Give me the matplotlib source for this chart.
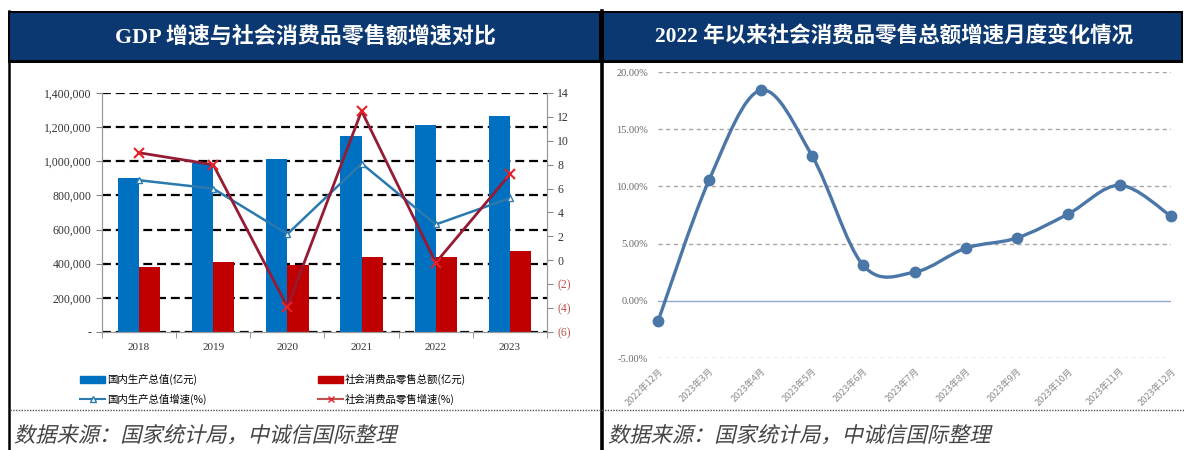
import numpy as np
import matplotlib
matplotlib.use("Agg")
import matplotlib.pyplot as plt
from matplotlib.patches import Rectangle, PathPatch, Patch
from matplotlib.path import Path
from matplotlib.lines import Line2D
from matplotlib.textpath import TextPath
from matplotlib.font_manager import FontProperties
from matplotlib.transforms import Affine2D
import matplotlib.ticker as mticker

plt.rcParams['font.family'] = ['Liberation Serif', 'Noto Sans CJK SC', 'DejaVu Sans']

# ---- datos ----
years = ['2018', '2019', '2020', '2021', '2022', '2023']
gdp_total = [905000, 990000, 1015000, 1146000, 1215000, 1265000]
retail_total = [381000, 411000, 392000, 441000, 440000, 473000]
gdp_growth = [6.7, 6.0, 2.2, 8.1, 3.0, 5.2]
retail_growth = [9.0, 8.0, -3.9, 12.5, -0.2, 7.2]

months = ['2022年12月', '2023年3月', '2023年4月', '2023年5月', '2023年6月', '2023年7月',
          '2023年8月', '2023年9月', '2023年10月', '2023年11月', '2023年12月']
retail_monthly = [-1.8, 10.6, 18.4, 12.7, 3.1, 2.5, 4.6, 5.5, 7.6, 10.1, 7.4]

title_left = 'GDP 增速与社会消费品零售额增速对比'
title_right = '2022 年以来社会消费品零售总额增速月度变化情况'
source_text = '数据来源：国家统计局，中诚信国际整理'
legend_labels = ['国内生产总值(亿元)', '国内生产总值增速(%)', '社会消费品零售总额(亿元)', '社会消费品零售增速(%)']

W, H, DPI = 1184, 450, 100
fig = plt.figure(figsize=(W / DPI, H / DPI), dpi=DPI)

# pixel -> figure fraction
def fx(x):
    return x / W

def fy(y):
    return 1 - y / H

def box(x0, y0, x1, y1, color):
    fig.add_artist(Rectangle((fx(x0), fy(y1)), fx(x1) - fx(x0), fy(y0) - fy(y1),
                             transform=fig.transFigure, color=color, lw=0, zorder=5))

# cabeceras
navy = '#0b3870'
box(8, 11, 601, 63, 'black')
box(10, 13, 599, 60, navy)
box(601, 11, 1183, 63, 'black')
box(604, 13, 1181, 60, navy)
fig.text(fx(305), fy(37), title_left, color='white', fontsize=15.8, fontweight='bold',
         ha='center', va='center', zorder=6)
fig.text(fx(894), fy(37), title_right, color='white', fontsize=15.5, fontweight='bold',
         ha='center', va='center', zorder=6)

# bordes verticales y separador punteado
fig.add_artist(Line2D([fx(9), fx(9)], [fy(11), 0], color='black', lw=1.8, transform=fig.transFigure))
fig.add_artist(Line2D([fx(601.5), fx(601.5)], [fy(11), 0], color='black', lw=2.6, transform=fig.transFigure))
fig.add_artist(Line2D([fx(10), 1], [fy(410), fy(410)], color='#555555', lw=1.0,
                      ls=(0, (1, 1)), transform=fig.transFigure))

# fuente en cursiva (sesgada a mano)
def italic_text(x, y, s, size):
    fp = FontProperties(family='Noto Sans CJK SC', size=size)
    tp = TextPath((0, 0), s, prop=fp)
    tr = Affine2D().skew_deg(13, 0).scale(DPI / 72.0).translate(x, H - y)
    fig.add_artist(PathPatch(tp, transform=tr, color='#444444', lw=0))

italic_text(14, 442, source_text, 15.3)
italic_text(608, 442, source_text, 15.3)

# ---- grafico izquierdo ----
ax = fig.add_axes([fx(102), fy(332), fx(547) - fx(102), fy(93) - fy(332)])
x = np.arange(len(years))
bw = 0.285
ax.bar(x - bw / 2, gdp_total, bw, color='#0070c0', zorder=2)
ax.bar(x + bw / 2, retail_total, bw, color='#c00000', zorder=2)
ax.set_xlim(-0.5, 5.5)
ax.set_ylim(0, 1400000)
ax.set_yticks(np.arange(0, 1400001, 200000))
ax.yaxis.set_major_formatter(mticker.FuncFormatter(lambda v, p: '-' if v == 0 else '{:,.0f}'.format(v)))
ax.set_xticks(x)
ax.set_xticklabels(years)
ax.set_xticks(np.arange(-0.5, 5.6, 1), minor=True)
ax.tick_params(axis='x', which='major', length=0, pad=8, labelsize=8, labelcolor='#333333')
ax.tick_params(axis='x', which='minor', length=4, color='#888888')
ax.tick_params(axis='y', length=4, color='#888888', labelsize=8.5, labelcolor='#333333')
ax.set_axisbelow(True)
ax.yaxis.grid(True, color='black', lw=1.6, ls=(0, (4, 2.2)))
ax.spines['top'].set_visible(False)
for s in ['left', 'bottom', 'right']:
    ax.spines[s].set_color('#999999')

ax2 = ax.twinx()
ax2.plot(x, gdp_growth, color='#2a7ab0', lw=1.8, marker='^', ms=5, mfc='white', mec='#2a7ab0', zorder=3)
ax2.plot(x, retail_growth, color='#961a33', lw=2.0, marker='x', ms=7, mew=1.5, mec='#e8202a', zorder=4)
ax2.set_ylim(-6, 14)
ax2.set_yticks(np.arange(-6, 15, 2))
ax2.yaxis.set_major_formatter(mticker.FuncFormatter(lambda v, p: '({:.0f})'.format(-v) if v < 0 else '{:.0f}'.format(v)))
ax2.tick_params(axis='y', length=4, color='#888888', labelsize=8.5)
for v, lab in zip(ax2.get_yticks(), ax2.get_yticklabels()):
    lab.set_color('#c0504d' if v < 0 else '#333333')
ax2.spines['top'].set_visible(False)
for s in ['left', 'bottom', 'right']:
    ax2.spines[s].set_color('#999999')

handles = [Patch(color='#0070c0'),
           Line2D([], [], color='#2a7ab0', lw=1.5, marker='^', ms=4, mfc='white', mec='#2a7ab0'),
           Patch(color='#c00000'),
           Line2D([], [], color='#c0504d', lw=1.5, marker='x', ms=4, mec='#e8202a')]
fig.legend(handles, legend_labels, ncol=2, loc='upper left', bbox_to_anchor=(fx(80), fy(374)),
           frameon=False, handlelength=2.4, handletextpad=0.2, columnspacing=10.7,
           labelspacing=0.8, borderaxespad=0, borderpad=0,
           prop={'family': ['Noto Sans CJK SC'], 'size': 7.5})

# ---- grafico derecho ----
bx = fig.add_axes([fx(658), fy(358), fx(1171) - fx(658), fy(72) - fy(358)])
mx = np.arange(len(months))
my = np.array(retail_monthly)

# curva suavizada (Catmull-Rom a Bezier)
pts = np.column_stack([mx, my])
ext = np.vstack([pts[0], pts, pts[-1]])
verts = [pts[0]]
codes = [Path.MOVETO]
for i in range(len(pts) - 1):
    p0, p1, p2, p3 = ext[i], ext[i + 1], ext[i + 2], ext[i + 3]
    verts += [p1 + (p2 - p0) / 6, p2 - (p3 - p1) / 6, p2]
    codes += [Path.CURVE4] * 3
bx.add_patch(PathPatch(Path(verts, codes), fill=False, ec='#4a76a8', lw=2.4, zorder=3, clip_on=False))
bx.plot(mx, my, ls='none', marker='o', ms=7.5, color='#4a76a8', zorder=4, clip_on=False)

bx.set_xlim(0, 10)
bx.set_ylim(-5, 20)
bx.set_yticks([-5, 0, 5, 10, 15, 20])
bx.yaxis.set_major_formatter(mticker.FuncFormatter(lambda v, p: '{:.2f}%'.format(v)))
for v in [-5, 5, 10, 15, 20]:
    bx.axhline(v, color='#a6a6a6', lw=1.0, ls=(0, (3, 2.5)), zorder=1)
bx.axhline(0, color='#8fa9d0', lw=1.0, zorder=1)
bx.set_xticks(mx)
bx.set_xticklabels(months, rotation=45, ha='right', rotation_mode='anchor',
                   family=['Noto Sans CJK SC'], fontsize=6.6, color='#8a8a8a')
bx.tick_params(axis='x', length=0, pad=6)
bx.tick_params(axis='y', length=0, pad=7, labelsize=7.5, labelcolor='#666666')
for s in bx.spines.values():
    s.set_visible(False)

fig.savefig('out.png', dpi=DPI)
